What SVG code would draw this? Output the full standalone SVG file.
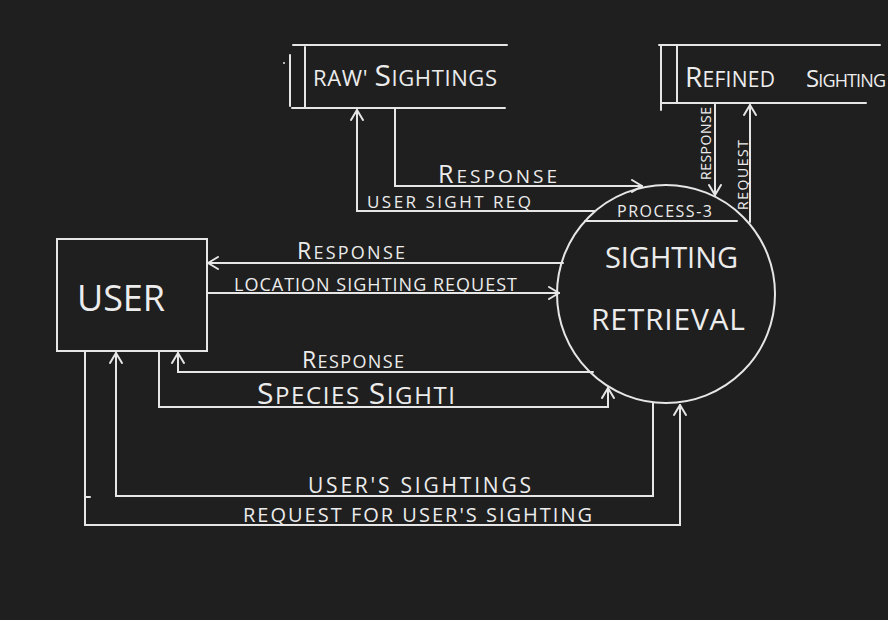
<svg xmlns="http://www.w3.org/2000/svg" width="888" height="620" viewBox="0 0 888 620">
<style>
.ln{fill:none;stroke:#e6e6e6;stroke-width:2;stroke-linecap:round}
.t{font-family:"Open Sans","DejaVu Sans",sans-serif;font-weight:400;fill:#ececec}
</style>
<defs>
<marker id="arr" viewBox="0 0 12 14" refX="11" refY="7" markerWidth="12" markerHeight="14" markerUnits="userSpaceOnUse" orient="auto">
<path d="M1,1 L11,7 L1,13" fill="none" stroke="#e6e6e6" stroke-width="2" stroke-linecap="round"/>
</marker>
</defs>
<rect width="888" height="620" fill="#1f1f1f"/>

<g id="raw-sightings">
<path class="ln" d="M293,45 H507 M292,108 H505 M290,55 V106 M305,47 V108"/>
<circle cx="284" cy="63" r="1" fill="#e6e6e6"/>
<text class="t" x="313" y="86" font-size="22" textLength="184" lengthAdjust="spacing">RAW' <tspan font-size="30">S</tspan>IGHTINGS</text>
</g>

<g id="refined-sighting">
<path class="ln" d="M659,45 H880 M662,103 H866 M661,45 V110 M677,45 V103"/>
<text class="t" font-size="21" y="87"><tspan x="685" textLength="90" lengthAdjust="spacing"><tspan font-size="28">R</tspan>EFINED</tspan><tspan x="806" textLength="80" lengthAdjust="spacing"><tspan font-size="24">S</tspan><tspan font-size="18">IGHTING</tspan></tspan></text>
</g>

<g id="process-3">
<circle class="ln" cx="666" cy="294" r="109"/>
<path class="ln" d="M585,221 H737"/>
<text class="t" x="617" y="217" font-size="16" textLength="95" lengthAdjust="spacing">PROCESS-3</text>
<text class="t" x="605" y="268" font-size="29" textLength="133" lengthAdjust="spacing">SIGHTING</text>
<text class="t" x="591" y="330" font-size="30" textLength="154" lengthAdjust="spacing">RETRIEVAL</text>
</g>

<g id="user">
<rect class="ln" x="57" y="239" width="150" height="112"/>
<text class="t" x="77" y="311" font-size="36" textLength="88" lengthAdjust="spacing">USER</text>
</g>

<g id="connectors">
<path class="ln" d="M395,108 V186 H642" marker-end="url(#arr)"/>
<path class="ln" d="M595,211 H357 V110" marker-end="url(#arr)"/>
<path class="ln" d="M715,103 V195" marker-end="url(#arr)"/>
<path class="ln" d="M750,222 V105" marker-end="url(#arr)"/>
<path class="ln" d="M563,263 H208" marker-end="url(#arr)"/>
<path class="ln" d="M207,293 H559" marker-end="url(#arr)"/>
<path class="ln" d="M593,372 H178 V353" marker-end="url(#arr)"/>
<path class="ln" d="M159,351 V407 H608 V388" marker-end="url(#arr)"/>
<path class="ln" d="M653,403 V496 H116 V353" marker-end="url(#arr)"/>
<path class="ln" d="M85,351 V525 H680 V405" marker-end="url(#arr)"/>
<path class="ln" d="M85,497 H90"/>
</g>

<g id="connector-labels">
<text class="t" x="438" y="183" font-size="19" textLength="119" lengthAdjust="spacing"><tspan font-size="25">R</tspan>ESPONSE</text>
<text class="t" x="367" y="208" font-size="17" textLength="164" lengthAdjust="spacing">USER SIGHT REQ</text>
<text class="t" font-size="14" transform="translate(711,180) rotate(-90)" textLength="73" lengthAdjust="spacing">RESPONSE</text>
<text class="t" font-size="14" transform="translate(748,210) rotate(-90)" textLength="70" lengthAdjust="spacing">REQUEST</text>
<text class="t" x="297" y="259" font-size="18" textLength="108" lengthAdjust="spacing"><tspan font-size="23">R</tspan>ESPONSE</text>
<text class="t" x="234" y="291" font-size="18" textLength="283" lengthAdjust="spacing">LOCATION SIGHTING REQUEST</text>
<text class="t" x="302" y="368" font-size="18" textLength="102" lengthAdjust="spacing"><tspan font-size="23">R</tspan>ESPONSE</text>
<text class="t" x="257" y="404" font-size="24" textLength="198" lengthAdjust="spacing"><tspan font-size="30">S</tspan>PECIES <tspan font-size="30">S</tspan>IGHTI</text>
<text class="t" x="308" y="493" font-size="21" textLength="223" lengthAdjust="spacing">USER'S SIGHTINGS</text>
<text class="t" x="243" y="522" font-size="20" textLength="349" lengthAdjust="spacing">REQUEST FOR USER'S SIGHTING</text>
</g>
</svg>
